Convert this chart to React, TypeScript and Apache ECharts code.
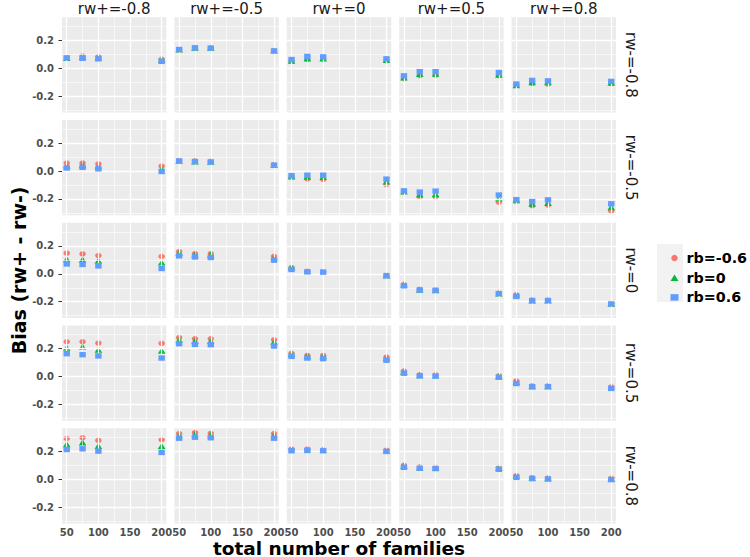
import React, { useEffect, useRef } from "react";
import * as echarts from "echarts";

// ---------- data ----------
const familyCounts = [50, 75, 100, 200];
const rwPlusLabels = ["rw+=-0.8", "rw+=-0.5", "rw+=0", "rw+=0.5", "rw+=0.8"];
const rwMinusLabels = ["rw-=-0.8", "rw-=-0.5", "rw-=0", "rw-=0.5", "rw-=0.8"];
const seriesNames = ["rb=-0.6", "rb=0", "rb=0.6"];
const xTickValues = [50, 100, 150, 200];
const xMinorValues = [75, 125, 175];
const yTickValues = [-0.2, 0, 0.2];
const yMinorValues = [-0.3, -0.1, 0.1, 0.3];

// bias[row = rw-][col = rw+] -> values at familyCounts
const biasRbNeg06 = [
  [[0.075, 0.088, 0.085, 0.065], [0.132, 0.146, 0.145, 0.125], [0.05, 0.065, 0.068, 0.055], [-0.073, -0.052, -0.05, -0.052], [-0.12, -0.108, -0.113, -0.11]],
  [[0.058, 0.058, 0.051, 0.035], [0.077, 0.073, 0.07, 0.047], [-0.044, -0.056, -0.06, -0.098], [-0.15, -0.184, -0.184, -0.223], [-0.216, -0.249, -0.244, -0.286]],
  [[0.148, 0.143, 0.131, 0.124], [0.16, 0.145, 0.145, 0.126], [0.045, 0.018, 0.015, -0.01], [-0.078, -0.112, -0.115, -0.138], [-0.15, -0.188, -0.188, -0.212]],
  [[0.25, 0.25, 0.24, 0.238], [0.279, 0.271, 0.271, 0.264], [0.167, 0.152, 0.152, 0.14], [0.04, 0.012, 0.012, 0.005], [-0.031, -0.067, -0.067, -0.074]],
  [[0.293, 0.298, 0.279, 0.284], [0.328, 0.335, 0.33, 0.328], [0.216, 0.216, 0.212, 0.209], [0.1, 0.088, 0.086, 0.084], [0.026, 0.012, 0.009, 0.007]],
];
const biasRb0 = [
  [[0.075, 0.082, 0.078, 0.06], [0.135, 0.148, 0.146, 0.128], [0.055, 0.072, 0.072, 0.06], [-0.065, -0.04, -0.038, -0.045], [-0.12, -0.1, -0.1, -0.103]],
  [[0.04, 0.042, 0.035, 0.016], [0.074, 0.07, 0.067, 0.044], [-0.038, -0.04, -0.042, -0.074], [-0.145, -0.167, -0.165, -0.195], [-0.208, -0.233, -0.228, -0.258]],
  [[0.105, 0.102, 0.095, 0.081], [0.15, 0.138, 0.138, 0.117], [0.048, 0.017, 0.014, -0.012], [-0.076, -0.114, -0.117, -0.14], [-0.148, -0.19, -0.19, -0.214]],
  [[0.207, 0.214, 0.193, 0.186], [0.264, 0.255, 0.255, 0.25], [0.162, 0.147, 0.146, 0.135], [0.036, 0.01, 0.01, 0.003], [-0.036, -0.068, -0.068, -0.077]],
  [[0.253, 0.265, 0.24, 0.24], [0.316, 0.323, 0.319, 0.319], [0.216, 0.215, 0.211, 0.208], [0.098, 0.086, 0.084, 0.082], [0.024, 0.01, 0.008, 0.005]],
];
const biasRb06 = [
  [[0.075, 0.072, 0.068, 0.05], [0.135, 0.147, 0.145, 0.125], [0.063, 0.085, 0.082, 0.068], [-0.054, -0.024, -0.024, -0.03], [-0.113, -0.087, -0.09, -0.094]],
  [[0.022, 0.027, 0.016, -0.003], [0.072, 0.068, 0.065, 0.042], [-0.033, -0.03, -0.03, -0.058], [-0.142, -0.151, -0.144, -0.172], [-0.205, -0.219, -0.207, -0.235]],
  [[0.071, 0.067, 0.057, 0.038], [0.129, 0.121, 0.117, 0.098], [0.031, 0.014, 0.012, -0.014], [-0.086, -0.116, -0.119, -0.142], [-0.162, -0.192, -0.192, -0.216]],
  [[0.164, 0.157, 0.148, 0.133], [0.236, 0.231, 0.229, 0.219], [0.145, 0.133, 0.129, 0.117], [0.024, 0.005, 0.003, -0.005], [-0.05, -0.073, -0.073, -0.085]],
  [[0.214, 0.219, 0.202, 0.193], [0.295, 0.302, 0.298, 0.295], [0.205, 0.207, 0.205, 0.2], [0.086, 0.079, 0.077, 0.072], [0.014, 0.005, 0.002, -0.002]],
];

// ---------- styling / layout ----------
const seriesData = [biasRbNeg06, biasRb0, biasRb06];
const colors = ["#F8766D", "#00BA38", "#619CFF"];
const symbols = ["circle", "triangle", "rect"];
const symbolSizes: number[][] = [[6.5, 5.4], [7.6, 6.2], [6.4, 5.4]];
const FONT = "DejaVu Sans";

const PANEL_LEFT = 62;
const PANEL_W = 104.4;
const GAP_X = 8;
const PANEL_TOP = 17.3;
const PANEL_H = 95.2;
const GAP_Y = 7.55;
const X_MIN = 42.5;
const X_MAX = 207.5;
const Y_MIN = -0.317;
const Y_MAX = 0.366;

function buildOption() {
  const grids: any[] = [];
  const xAxes: any[] = [];
  const yAxes: any[] = [];
  const series: any[] = [];
  const graphics: any[] = [];

  for (let r = 0; r < 5; r++) {
    for (let c = 0; c < 5; c++) {
      const i = r * 5 + c;
      const left = PANEL_LEFT + c * (PANEL_W + GAP_X);
      const top = PANEL_TOP + r * (PANEL_H + GAP_Y);
      const bottomRow = r === 4;
      const leftCol = c === 0;
      grids.push({
        left,
        top,
        width: PANEL_W,
        height: PANEL_H,
        show: true,
        backgroundColor: "#EBEBEB",
        borderWidth: 0,
      });
      xAxes.push({
        type: "value",
        gridIndex: i,
        min: X_MIN,
        max: X_MAX,
        splitLine: { show: false },
        axisLine: { show: false },
        axisTick: {
          show: bottomRow,
          customValues: xTickValues,
          length: 3.5,
          lineStyle: { color: "#333333", width: 1 },
        },
        axisLabel: {
          show: bottomRow,
          customValues: xTickValues,
          color: "#4D4D4D",
          fontSize: 10,
          fontWeight: "bold",
          fontFamily: FONT,
          margin: 4,
        },
      });
      yAxes.push({
        type: "value",
        gridIndex: i,
        min: Y_MIN,
        max: Y_MAX,
        splitLine: { show: false },
        axisLine: { show: false },
        axisTick: {
          show: leftCol,
          customValues: yTickValues,
          length: 3.5,
          lineStyle: { color: "#333333", width: 1 },
        },
        axisLabel: {
          show: leftCol,
          customValues: yTickValues,
          color: "#4D4D4D",
          fontSize: 10,
          fontWeight: "bold",
          fontFamily: FONT,
          margin: 8,
          formatter: (v: number) => v.toFixed(1),
        },
      });

      const major = { color: "#FFFFFF", width: 1.3, type: "solid" };
      const minor = { color: "#FFFFFF", width: 0.6, type: "solid" };
      series.push({
        type: "scatter",
        xAxisIndex: i,
        yAxisIndex: i,
        data: [],
        silent: true,
        z: 1,
        markLine: {
          silent: true,
          symbol: ["none", "none"],
          label: { show: false },
          emphasis: { disabled: true },
          data: [
            ...xMinorValues.map((v) => ({ xAxis: v, lineStyle: minor })),
            ...yMinorValues.map((v) => ({ yAxis: v, lineStyle: minor })),
            ...xTickValues.map((v) => ({ xAxis: v, lineStyle: major })),
            ...yTickValues.map((v) => ({ yAxis: v, lineStyle: major })),
          ],
        },
      });

      seriesData.forEach((set, s) => {
        series.push({
          type: "scatter",
          name: seriesNames[s],
          xAxisIndex: i,
          yAxisIndex: i,
          symbol: symbols[s],
          symbolSize: symbolSizes[s],
          itemStyle: { color: colors[s], opacity: 1 },
          z: 3 + s,
          data: familyCounts.map((x, k) => [x, set[r][c][k]]),
        });
      });

      if (r === 0) {
        graphics.push({
          type: "text",
          x: left + PANEL_W / 2,
          y: 8.5,
          style: {
            text: rwPlusLabels[c],
            fill: "#1A1A1A",
            fontSize: 15,
            fontFamily: FONT,
            textAlign: "center",
            textVerticalAlign: "middle",
          },
        });
      }
      if (c === 4) {
        graphics.push({
          type: "text",
          x: 631,
          y: top + PANEL_H / 2,
          rotation: -Math.PI / 2,
          style: {
            text: rwMinusLabels[r],
            fill: "#1A1A1A",
            fontSize: 15,
            fontFamily: FONT,
            textAlign: "center",
            textVerticalAlign: "middle",
          },
        });
      }
    }
  }

  const plotCenterX = PANEL_LEFT + (5 * PANEL_W + 4 * GAP_X) / 2;
  const plotCenterY = PANEL_TOP + (5 * PANEL_H + 4 * GAP_Y) / 2;

  graphics.push({
    type: "text",
    x: 19,
    y: plotCenterY,
    rotation: Math.PI / 2,
    style: {
      text: "Bias (rw+ - rw-)",
      fill: "#000000",
      fontSize: 19,
      fontWeight: "bold",
      fontFamily: FONT,
      textAlign: "center",
      textVerticalAlign: "middle",
    },
  });
  graphics.push({
    type: "text",
    x: plotCenterX,
    y: 548,
    style: {
      text: "total number of families",
      fill: "#000000",
      fontSize: 18.5,
      lineHeight: 17,
      fontWeight: "bold",
      fontFamily: FONT,
      textAlign: "center",
      textVerticalAlign: "middle",
    },
  });
  graphics.push({
    type: "rect",
    z: 0,
    shape: { x: 657, y: 244, width: 26, height: 58 },
    style: { fill: "#F2F2F2" },
  });

  return {
    animation: false,
    backgroundColor: "#FFFFFF",
    grid: grids,
    xAxis: xAxes,
    yAxis: yAxes,
    series,
    graphic: graphics,
    legend: {
      data: seriesNames,
      orient: "vertical",
      left: 665.5,
      top: 245.5,
      itemWidth: 8,
      itemHeight: 6.5,
      itemGap: 4.7,
      selectedMode: false,
      textStyle: {
        fontSize: 14.3,
        fontWeight: "bold",
        fontFamily: FONT,
        color: "#000000",
        lineHeight: 15,
        padding: [0, 0, 0, 3],
      },
    },
  };
}

export default function App() {
  const ref = useRef<HTMLDivElement>(null);
  useEffect(() => {
    if (!ref.current) return;
    const chart = echarts.init(ref.current, undefined, { renderer: "svg" });
    chart.setOption(buildOption() as any);
    return () => chart.dispose();
  }, []);
  return (
    <div
      ref={ref}
      style={{ position: "fixed", left: 0, top: 0, width: 750, height: 557, background: "#fff" }}
    />
  );
}
